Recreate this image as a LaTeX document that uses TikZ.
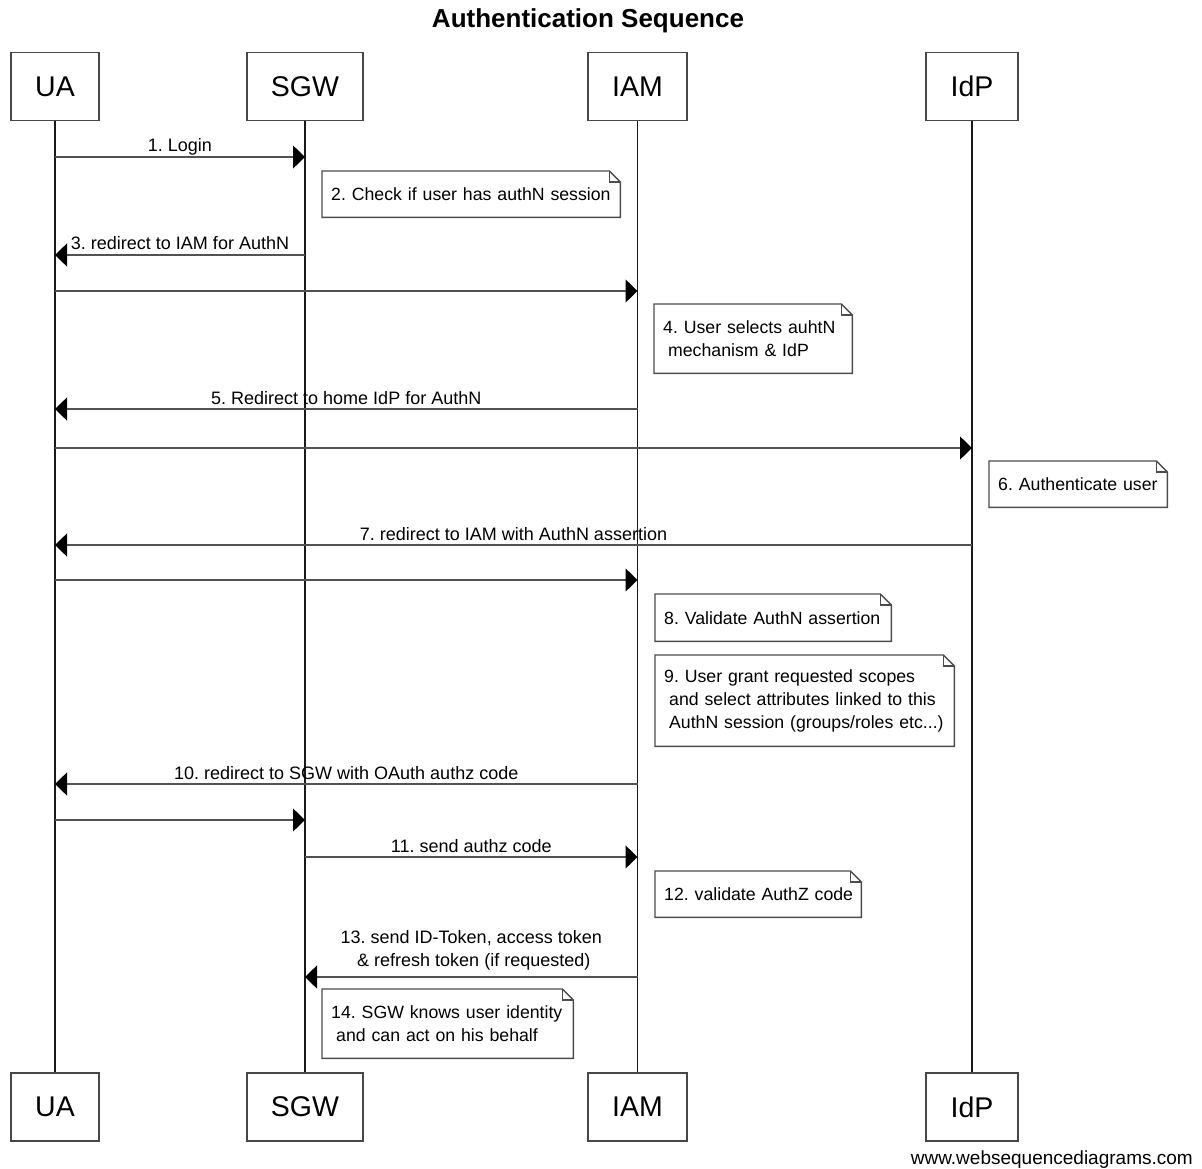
\documentclass[tikz,border=0pt]{standalone}
\usepackage{fontspec}
\setmainfont{Liberation Sans}
\usetikzlibrary{arrows.meta}
\frenchspacing

% Draw a note: name, left x, top y, width, height, text (lines in \mbox)
\newcommand\seqnote[6]{%
  \pgfmathsetmacro\notetw{#4-18}%
  \node[notetext, text width=\notetw pt, minimum height=#5pt, anchor=north west] (#1) at (#2,#3) {#6};
  \draw[noteline] (#1.south west) -- (#1.north west) -- ([xshift=-11pt]#1.north east)
    -- ([yshift=-11pt]#1.north east) -- (#1.south east) -- cycle;
  \draw[noteline] ([xshift=-11pt]#1.north east) |- ([yshift=-11pt]#1.north east);
}

\begin{document}
\begin{tikzpicture}[x=1pt,y=-1pt,
  actor/.style={draw=black!72, line width=1.6pt, fill=white, minimum width=#1,
    minimum height=68pt, inner sep=0pt, font=\fontsize{28.5}{32}\selectfont},
  lifeline/.style={draw=black!90, line width=1.2pt},
  msg/.style={draw=black!68, line width=1.5pt,
    -{Triangle[length=12pt,width=23pt,color=black]}},
  msglabel/.style={font=\fontsize{18}{23}\selectfont, inner sep=0pt,
    anchor=base, yshift=5pt},
  notetext/.style={font=\fontsize{17.7}{23}\selectfont, inner xsep=9pt,
    inner ysep=0pt, align=left},
  noteline/.style={draw=black!70, line width=1.4pt, line join=miter}
]
\useasboundingbox (0,0) rectangle (1202,1169);

% title
\node[font=\bfseries\fontsize{26}{30}\selectfont, anchor=base] (title) at (588,28) {Authentication Sequence};

% participants, top and bottom
\node[actor=88pt]  (ua)   at (55,86.5)  {UA};
\node[actor=116pt] (sgw)  at (305,86.5) {SGW};
\node[actor=99pt]  (iam)  at (637.5,86.5) {IAM};
\node[actor=92pt]  (idp)  at (972,86.5) {IdP};
\node[actor=88pt]  (uab)  at (55,1107)  {UA};
\node[actor=116pt] (sgwb) at (305,1107) {SGW};
\node[actor=99pt]  (iamb) at (637.5,1107) {IAM};
\node[actor=92pt]  (idpb) at (972,1107) {IdP};

% lifelines
\draw[lifeline] (ua) -- (uab);
\draw[lifeline] (sgw) -- (sgwb);
\draw[lifeline] (iam) -- (iamb);
\draw[lifeline] (idp) -- (idpb);

% message rows
\coordinate (r1) at (0,157);
\coordinate (r3) at (0,255);
\coordinate (r4) at (0,291);
\coordinate (r5) at (0,409);
\coordinate (r6) at (0,448);
\coordinate (r7) at (0,545);
\coordinate (r8) at (0,580);
\coordinate (r10) at (0,784);
\coordinate (r10b) at (0,820);
\coordinate (r11) at (0,857);
\coordinate (r13) at (0,977);

% messages
\draw[msg] (ua |- r1) -- node[msglabel] {1. Login} (sgw |- r1);
\draw[msg] (sgw |- r3) -- node[msglabel] {3. redirect to IAM for AuthN} (ua |- r3);
\draw[msg] (ua |- r4) -- (iam |- r4);
\draw[msg] (iam |- r5) -- node[msglabel] {5. Redirect to home IdP for AuthN} (ua |- r5);
\draw[msg] (ua |- r6) -- (idp |- r6);
\draw[msg] (idp |- r7) -- node[msglabel] {7. redirect to IAM with AuthN assertion} (ua |- r7);
\draw[msg] (ua |- r8) -- (iam |- r8);
\draw[msg] (iam |- r10) -- node[msglabel] {10. redirect to SGW with OAuth authz code} (ua |- r10);
\draw[msg] (ua |- r10b) -- (sgw |- r10b);
\draw[msg] (sgw |- r11) -- node[msglabel] {11. send authz code} (iam |- r11);
\draw[msg] (iam |- r13) -- node[msglabel, anchor=south, yshift=1pt, align=center]
  {13. send ID-Token, access token\\\hspace*{0.28em}\& refresh token (if requested)} (sgw |- r13);

% notes
\seqnote{n2}{322}{171}{298}{46}{\mbox{2. Check if user has authN session}}
\seqnote{n4}{654}{304}{198}{69}{\mbox{4. User selects auhtN}\\\mbox{\hspace*{0.28em}mechanism \& IdP}}
\seqnote{n6}{989}{461}{178}{46}{\mbox{6. Authenticate user}}
\seqnote{n8}{655}{594}{236}{47}{\mbox{8. Validate AuthN assertion}}
\seqnote{n9}{655}{655}{299}{91}{\mbox{9. User grant requested scopes}\\\mbox{\hspace*{0.28em}and select attributes linked to this}\\\mbox{\hspace*{0.28em}AuthN session (groups/roles etc...)}}
\seqnote{n12}{655}{871}{206}{46}{\mbox{12. validate AuthZ code}}
\seqnote{n14}{322}{989}{251}{69}{\mbox{14. SGW knows user identity}\\\mbox{\hspace*{0.28em}and can act on his behalf}}

% footer
\node[font=\fontsize{19}{22}\selectfont, anchor=base east, inner sep=0pt] (site) at (1193,1164) {www.websequencediagrams.com};
\end{tikzpicture}
\end{document}
